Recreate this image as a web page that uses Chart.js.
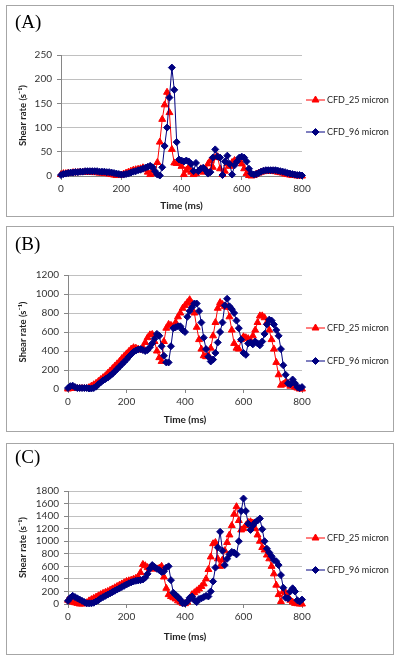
<!DOCTYPE html>
<html>
<head>
<meta charset="utf-8">
<script src="https://cdn.jsdelivr.net/npm/chart.js@4.4.1/dist/chart.umd.min.js"></script>
<style>
html, body { margin: 0; padding: 0; background: #fff; width: 400px; height: 661px; overflow: hidden; }
.panel { position: absolute; left: 6px; width: 386px; border: 1px solid #a6a6a6; }
.panel canvas { position: absolute; left: 0; top: 0; }
.tag { position: absolute; left: 8px; font-family: "Liberation Serif", "DejaVu Serif", serif; font-size: 19px; line-height: 20px; color: #000; }
</style>
</head>
<body>
<div class="panel" style="top:5px;height:210px"><canvas id="chart-a" width="386" height="210"></canvas><div class="tag" style="top:6px">(A)</div></div>
<div class="panel" style="top:226px;height:204px"><canvas id="chart-b" width="386" height="204"></canvas><div class="tag" style="top:7px">(B)</div></div>
<div class="panel" style="top:443px;height:210px"><canvas id="chart-c" width="386" height="210"></canvas><div class="tag" style="top:3px">(C)</div></div>
<script>
// time axis, ms
const times = [0,8,16,24,32,40,48,56,64,72,80,88,96,104,112,120,128,136,144,152,160,168,176,184,192,200,208,216,224,232,240,248,256,264,272,280,288,296,304,312,320,328,336,344,352,360,368,376,384,392,400,408,416,424,432,440,448,456,464,472,480,488,496,504,512,520,528,536,544,552,560,568,576,584,592,600,608,616,624,632,640,648,656,664,672,680,688,696,704,712,720,728,736,744,752,760,768,776,784,792,800];

const seriesNames = ['CFD_25 micron', 'CFD_96 micron'];

// (A)
const aRed = [3,5,5,6,6,7,7,7,8,8, 8,8,8,8,7,7,6,6,5,5, 4,3,2,1,1,2,4,6,8,10, 12,13,14,15,17,14,8,3,12,5,
  28,70,117,147,173,131,55,27,26,26, 20,3,12,18,8,3,5,10,15,8, 15,25,32,18,38,40,15,3,10,25,
  20,28,32,30,33,25,15,5,1,0, 1,4,6,8,9,10,10,10,10,9, 8,7,6,4,3,2,1,1,0,0, 0];
const aBlue = [2,4,5,6,7,7,8,8,9,9, 10,10,10,10,10,10,9,9,9,8, 8,7,6,5,4,3,3,4,5,7, 9,10,12,13,15,17,19,21,18,10,
  3,1,18,62,100,162,224,178,70,34, 32,30,32,30,25,10,27,10,15,17, 12,5,8,38,55,40,38,2,30,42,
  25,3,22,30,38,40,38,30,15,5, 3,4,6,9,11,12,12,12,12,12, 11,10,9,8,6,5,4,3,2,2, 1];

// (B)
const bRed = [0,5,15,10,5,5,5,5,5,15, 30,45,60,80,100,120,140,165,190,215, 240,265,290,320,345,370,395,420,435,430,
  420,410,440,490,540,570,575,500,400,330, 290,500,640,680,670,660,700,760,800,850,
  880,910,940,900,800,650,520,420,350,340, 350,430,560,700,850,910,890,870,860,760,
  620,480,430,420,520,550,540,530,510,560, 620,700,770,770,750,700,620,520,420,280,
  150,40,50,70,60,30,40,20,10,0, 0];
const bBlue = [10,30,35,20,10,10,10,10,10,5, 5,10,25,50,70,90,105,120,140,160, 185,210,235,260,285,310,340,365,390,405,
  415,420,410,400,410,440,480,530,580,560, 450,350,280,280,450,640,650,660,660,620,
  600,760,820,860,900,900,820,700,540,420, 340,290,310,380,490,600,700,880,950,870,
  840,800,720,640,520,380,360,480,490,470, 500,480,460,500,580,680,730,720,680,620,
  560,420,250,150,60,50,100,60,20,10, 20];

// (C)
const cRed = [60,40,30,20,10,0,0,5,20,50, 70,90,110,130,150,170,185,200,220,240, 260,280,300,320,340,360,370,380,395,410,
  430,500,630,610,580,560,560,560,560,570, 600,430,250,150,120,100,80,50,30,10,
  5,30,80,150,180,210,240,280,320,400, 550,750,960,980,720,600,700,850,980,1100,
  1250,1430,1550,1330,1180,1200,1250,1300,1310,1290, 1200,1100,1000,900,860,780,720,600,480,300,
  150,40,200,180,120,60,30,10,5,0, 0];
const cBlue = [50,100,130,110,90,70,50,30,10,10, 10,20,40,60,90,110,130,150,170,190, 210,230,250,270,290,310,330,345,360,370,
  375,380,390,420,480,560,620,590,560,540, 510,520,580,600,380,180,140,110,70,10,
  10,40,100,120,60,30,80,90,110,130, 120,200,360,580,900,1150,850,620,720,790,
  830,820,790,1000,1480,1680,1480,1280,1180,1250, 1300,1330,1360,1190,1000,880,820,760,700,680,
  620,460,260,100,90,200,250,200,60,40, 70];

const RED = '#ff0000';
const NAVY = '#000080';
const AXIS = '#868686';
const GRID = '#c0c0c0';
const TXT = '#333333';
const SANS = "Lato, 'Open Sans', sans-serif";

function drawMarker(ctx, style, x, y, r) {
    ctx.beginPath();
    if (style === 'triangle') {
        ctx.moveTo(x, y - r);
        ctx.lineTo(x + r * 0.866, y + r * 0.5);
        ctx.lineTo(x - r * 0.866, y + r * 0.5);
    } else {
        ctx.moveTo(x, y - r);
        ctx.lineTo(x + r, y);
        ctx.lineTo(x, y + r);
        ctx.lineTo(x - r, y);
    }
    ctx.closePath();
    ctx.fill();
    ctx.stroke();
}

// legend at the right, line + marker like the spreadsheet one
const sideLegend = {
    id: 'sideLegend',
    afterDraw(chart, args, opts) {
        const ctx = chart.ctx;
        chart.data.datasets.forEach((ds, i) => {
            const y = opts.rows[i];
            ctx.save();
            ctx.strokeStyle = ds.borderColor;
            ctx.fillStyle = ds.borderColor;
            ctx.lineWidth = 1;
            ctx.beginPath();
            ctx.moveTo(opts.x, y);
            ctx.lineTo(opts.x + 19, y);
            ctx.stroke();
            drawMarker(ctx, ds.pointStyle, opts.x + 9.5, y, ds.pointRadius);
            ctx.fillStyle = '#222';
            ctx.font = "9px " + SANS;
            ctx.textBaseline = 'middle';
            ctx.fillText(ds.label, opts.x + 21, y);
            ctx.restore();
        });
    }
};

function buildChart(id, red, blue, yMax, yStep, box) {
    const W = 386;
    return new Chart(document.getElementById(id), {
        type: 'line',
        data: {
            datasets: [{
                label: seriesNames[0],
                data: times.map((t, i) => ({ x: t, y: red[i] })),
                borderColor: RED,
                backgroundColor: RED,
                borderWidth: 1,
                pointStyle: 'triangle',
                pointRadius: 4,
                pointBorderWidth: 1,
                tension: 0,
                clip: false,
                order: 2
            }, {
                label: seriesNames[1],
                data: times.map((t, i) => ({ x: t, y: blue[i] })),
                borderColor: NAVY,
                backgroundColor: NAVY,
                borderWidth: 1,
                pointStyle: 'rectRot',
                pointRadius: 3.5,
                pointBorderWidth: 1,
                tension: 0,
                clip: false,
                order: 1
            }]
        },
        options: {
            responsive: false,
            animation: false,
            layout: { padding: { left: 0, right: W - box.right, top: box.top, bottom: 0 } },
            plugins: {
                legend: { display: false },
                tooltip: { enabled: false },
                sideLegend: { x: 299, rows: box.rows }
            },
            scales: {
                x: {
                    type: 'linear',
                    min: 0,
                    max: 800,
                    ticks: { stepSize: 200, padding: 3, color: TXT, font: { family: SANS, size: 10 }, maxRotation: 0,
                             callback: v => String(v) },
                    grid: { drawOnChartArea: false, drawTicks: true, tickLength: 4, tickColor: AXIS },
                    border: { color: AXIS },
                    title: {
                        display: true,
                        text: 'Time (ms)',
                        color: '#222',
                        font: { family: SANS, size: 10, weight: 'bold' },
                        padding: { top: 0, bottom: box.xPad }
                    },
                    afterFit: s => { s.height = box.h - box.bottom; }
                },
                y: {
                    min: 0,
                    max: yMax,
                    ticks: { stepSize: yStep, padding: 5, color: TXT, font: { family: SANS, size: 10 },
                             autoSkip: false, callback: v => String(v) },
                    grid: { color: GRID, tickColor: AXIS, tickLength: 4 },
                    border: { color: AXIS },
                    title: {
                        display: true,
                        text: 'Shear rate (s\u207B\u00B9)',
                        color: '#222',
                        font: { family: SANS, size: 9.5, weight: 'bold' },
                        padding: { top: 10, bottom: 0 }
                    },
                    afterFit: s => { s.width = box.left; }
                }
            }
        },
        plugins: [sideLegend]
    });
}

buildChart('chart-a', aRed, aBlue, 250, 50, { h: 210, left: 54, right: 295, top: 49, bottom: 170, xPad: 4, rows: [94, 126] });
buildChart('chart-b', bRed, bBlue, 1200, 200, { h: 204, left: 61, right: 295, top: 48, bottom: 162, xPad: 5, rows: [101, 134] });
buildChart('chart-c', cRed, cBlue, 1800, 200, { h: 210, left: 61, right: 295, top: 47, bottom: 160, xPad: 11, rows: [94, 126] });
</script>
</body>
</html>
